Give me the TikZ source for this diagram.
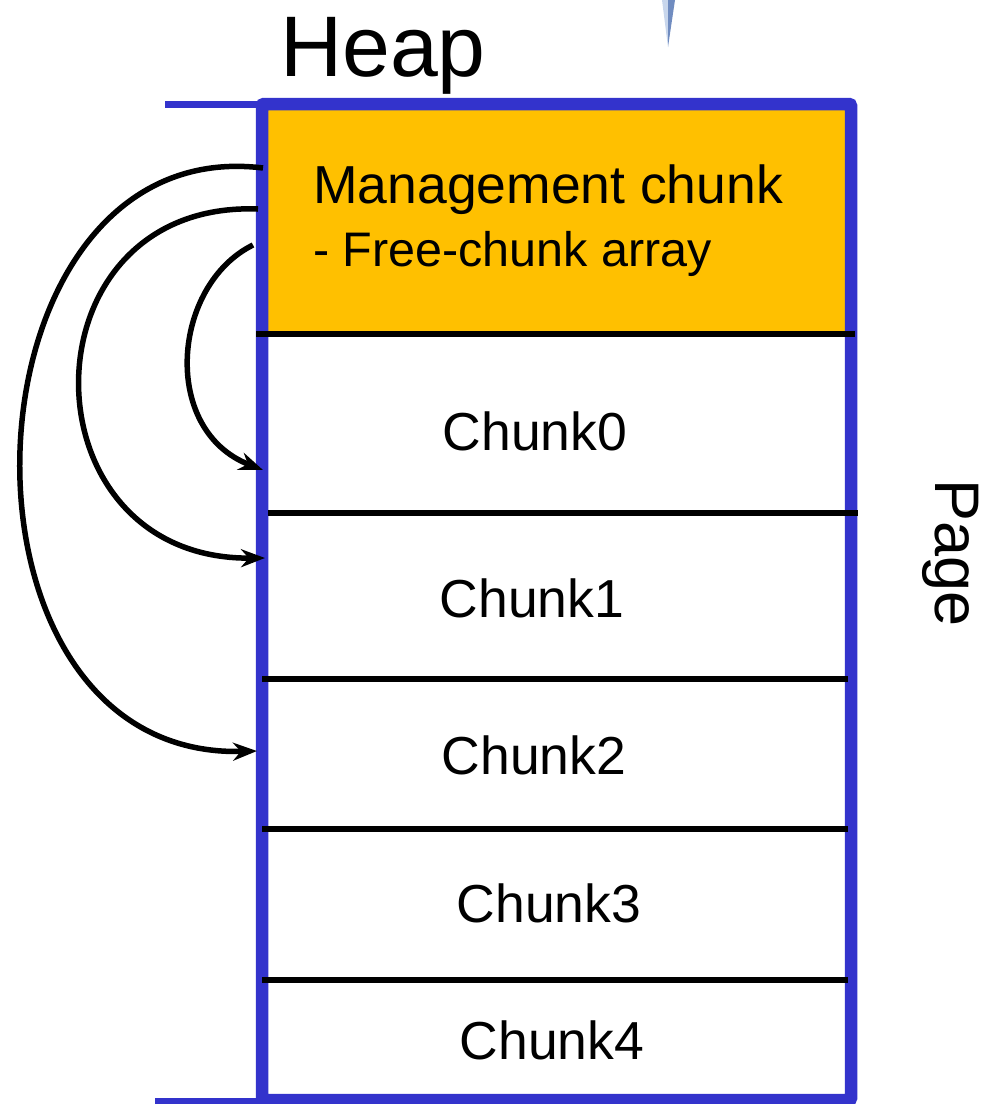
\documentclass[tikz,border=0pt]{standalone}
\usepackage{fontspec}
\setmainfont{Liberation Sans}
\usetikzlibrary{arrows.meta}
\definecolor{frameblue}{RGB}{51,51,204}
\definecolor{mgmtorange}{RGB}{255,192,0}
\definecolor{spikelight}{RGB}{200,214,236}
\definecolor{spikedark}{RGB}{112,140,192}
\tikzset{
  frame/.style={draw=frameblue, line width=12.5pt, rounded corners=2pt},
  ledge/.style={draw=frameblue, line width=7pt},
  divider/.style={draw=black, line width=6.5pt},
  label/.style={inner sep=0pt, anchor=base, font=\fontsize{53.5}{62}\selectfont},
  pointer/.style={draw=black, line width=5.5pt, -{Stealth[length=24pt,width=18pt]}},
}
\begin{document}
\begin{tikzpicture}[x=1pt,y=-1pt]
\useasboundingbox (0,0) rectangle (983,1104);

% fragment of a pointer shape at the top edge
\fill[spikelight] (662,0) -- (669,0) -- (668,47) -- cycle;
\fill[spikedark] (668,0) -- (675,0) -- (668,47) -- cycle;

% management chunk area
\fill[mgmtorange] (262,104) rectangle (851,334);

% heap boundary ledges
\draw[ledge] (165,104) -- (262,104);
\draw[ledge] (155,1101) -- (262,1101);

% page frame
\draw[frame] (262,1100) -- (262,104) -- (851,104) -- (851,1100) -- cycle;

% chunk dividers
\draw[divider] (256,334) -- (855,334);
\draw[divider] (268,513) -- (858,513);
\draw[divider] (262,679) -- (848,679);
\draw[divider] (262,829) -- (848,829);
\draw[divider] (262,980) -- (848,980);

% labels
\node[label, font=\fontsize{86}{96}\selectfont] (heap) at (383,76) {Heap};
\node[label, anchor=base west] (mgmt) at (313,203) {Management chunk};
\node[label, anchor=base west, font=\fontsize{48.5}{56}\selectfont] (free) at (313,266) {- Free-chunk array};
\node[label] (c0) at (535,450) {Chunk0};
\node[label] (c1) at (532,617) {Chunk1};
\node[label] (c2) at (534,774) {Chunk2};
\node[label] (c3) at (549,922) {Chunk3};
\node[label] (c4) at (552,1059) {Chunk4};
\node[label, rotate=-90, font=\fontsize{63}{70}\selectfont] (page) at (935,553) {Page};

% free-chunk array entries pointing at the chunks
\coordinate (p0s) at (253,245);
\coordinate (p0e) at (263,470);
\coordinate (p1s) at (258,209);
\coordinate (p1e) at (265,558);
\coordinate (p2s) at (263,168);
\coordinate (p2e) at (257,751);
\draw[pointer] (p0s) .. controls (172,285) and (160,430) .. (p0e);
\draw[pointer] (p1s) .. controls (20,200) and (20,560) .. (p1e);
\draw[pointer] (p2s) .. controls (-45,130) and (-70,760) .. (p2e);
\end{tikzpicture}
\end{document}
